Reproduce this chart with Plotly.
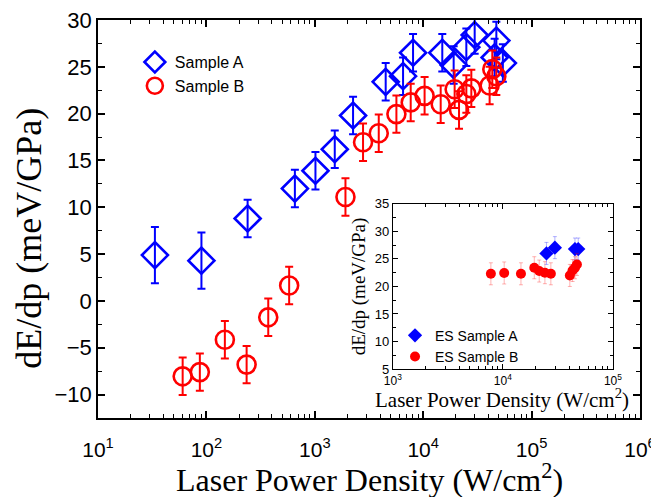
import plotly.graph_objects as go

# Main plot data
a_x = [33.5, 90, 240, 655, 1014, 1528, 2254, 4508, 6520, 8060, 15000, 19100, 25000, 29850, 47300, 45600, 54300]
a_y = [4.9, 4.3, 8.8, 12.0, 13.9, 16.2, 19.8, 23.4, 24.0, 26.5, 26.5, 25.2, 27.1, 28.4, 27.8, 26.0, 25.4]
a_err = [3, 3, 2, 2, 2, 2, 2, 2, 2, 2, 2, 2, 2, 2, 2, 2, 2]

b_x = [60.4, 87, 148, 235, 372, 580, 1918, 2786, 3890, 5660, 7670, 10300, 14500, 19500, 21400, 25000, 27800, 41000, 43400, 47300]
b_y = [-8.05, -7.6, -4.15, -6.8, -1.75, 1.65, 11.1, 16.95, 17.9, 19.95, 21.2, 21.9, 21.0, 22.6, 20.4, 22.1, 22.7, 23.0, 24.75, 24.0]
b_err = [2] * len(b_x)

# Inset data
ia_x = [24900, 29700, 45200, 48400]
ia_y = [26.0, 27.05, 26.8, 26.8]
ib_x = [7780, 10280, 14600, 19300, 21400, 24100, 27300, 40600, 43000, 45200, 47100]
ib_y = [22.3, 22.45, 22.3, 23.4, 22.8, 22.5, 22.3, 22.0, 22.9, 23.4, 24.0]
i_err = 2

# Tick labels
main_decades = [1, 2, 3, 4, 5, 6]
inset_decades = [3, 4, 5]

BLUE = "#0000FF"
RED = "#FF0000"


def dec_ticks(decs):
    vals = [10 ** d for d in decs]
    text = ["10<sup>%d</sup>" % d for d in decs]
    minors = [m * 10 ** d for d in decs[:-1] for m in range(2, 10)]
    return vals, text, minors


mv, mt, mm = dec_ticks(main_decades)
iv, it, im = dec_ticks(inset_decades)

fig = go.Figure()
fig.add_trace(go.Scatter(
    x=a_x, y=a_y, mode="markers", name="Sample A",
    marker=dict(symbol="diamond-open", size=20, color=BLUE, line=dict(width=2.6, color=BLUE)),
    error_y=dict(type="data", array=a_err, color=BLUE, thickness=2, width=4),
    xaxis="x", yaxis="y", legend="legend"))
fig.add_trace(go.Scatter(
    x=b_x, y=b_y, mode="markers", name="Sample B",
    marker=dict(symbol="circle-open", size=18, color=RED, line=dict(width=2.6, color=RED)),
    error_y=dict(type="data", array=b_err, color=RED, thickness=2, width=4),
    xaxis="x", yaxis="y", legend="legend"))

fig.add_trace(go.Scatter(
    x=ia_x, y=ia_y, mode="markers", name="ES Sample A",
    marker=dict(symbol="diamond", size=11, color=BLUE),
    error_y=dict(type="constant", value=i_err, color="rgba(0,0,255,0.3)", thickness=1, width=2),
    xaxis="x2", yaxis="y2", legend="legend2"))
fig.add_trace(go.Scatter(
    x=ib_x, y=ib_y, mode="markers", name="ES Sample B",
    marker=dict(symbol="circle", size=10, color=RED),
    error_y=dict(type="constant", value=i_err, color="rgba(255,0,0,0.3)", thickness=1, width=2),
    xaxis="x2", yaxis="y2", legend="legend2"))

axis_common = dict(showline=True, linecolor="black", mirror="ticks", ticks="inside",
                   showgrid=False, zeroline=False, tickcolor="black", automargin=False,
                   ticklabeloverflow="allow")
SERIF = "Liberation Serif, Times New Roman"
SANS = "Liberation Sans, Arial"

fig.update_layout(
    width=651, height=489,
    margin=dict(l=90, r=19, t=12, b=79, autoexpand=False),
    paper_bgcolor="white", plot_bgcolor="white",
    xaxis=dict(type="log", range=[1, 6], tickmode="array", tickvals=mv, ticktext=mt,
               linewidth=1.5, tickwidth=1.5, ticklen=7, ticklabelstandoff=12,
               minor=dict(tickmode="array", tickvals=mm, ticks="inside", ticklen=4,
                          tickwidth=1.2, tickcolor="black"),
               tickfont=dict(family=SANS, size=21, color="black"),
               domain=[0, 1], anchor="y", **axis_common),
    yaxis=dict(range=[-12.5, 30], dtick=5, tick0=0,
               linewidth=1.5, tickwidth=1.5, ticklen=7,
               minor=dict(ticks="inside", ticklen=4, tickwidth=1.2, dtick=2.5, tickcolor="black"),
               tickfont=dict(family=SANS, size=22, color="black"),
               domain=[0, 1], anchor="x", **axis_common),
    xaxis2=dict(type="log", range=[3, 5], tickmode="array", tickvals=iv, ticktext=it,
                linewidth=1.2, tickwidth=1.2, ticklen=5,
                minor=dict(tickmode="array", tickvals=im, ticks="inside", ticklen=3,
                           tickwidth=1, tickcolor="black"),
                tickfont=dict(family=SANS, size=12, color="black"),
                domain=[0.544, 0.950], anchor="y2", **axis_common),
    yaxis2=dict(range=[5, 35], dtick=5, tick0=0,
                linewidth=1.2, tickwidth=1.2, ticklen=5,
                minor=dict(ticks="inside", ticklen=3, tickwidth=1, dtick=2.5, tickcolor="black"),
                tickfont=dict(family=SANS, size=13, color="black"),
                domain=[0.123, 0.538], anchor="x2", **axis_common),
    legend=dict(x=0.068, y=0.937, xanchor="left", yanchor="top", bgcolor="rgba(0,0,0,0)",
                font=dict(family=SANS, size=16, color="black"),
                tracegroupgap=0, itemwidth=30),
    legend2=dict(x=0.548, y=0.247, xanchor="left", yanchor="top", bgcolor="rgba(0,0,0,0)",
                 font=dict(family=SANS, size=14, color="black"),
                 tracegroupgap=0, itemwidth=30),
    annotations=[
        dict(text="Laser Power Density (W/cm<sup>2</sup>)", xref="paper", yref="paper",
             x=0.5, y=-0.150, xanchor="center", yanchor="middle", showarrow=False,
             font=dict(family=SERIF, size=32, color="black")),
        dict(text="dE/dp (meV/GPa)", xref="paper", yref="paper", textangle=-90,
             x=-0.128, y=0.452, xanchor="center", yanchor="middle", showarrow=False,
             font=dict(family=SERIF, size=36, color="black")),
        dict(text="Laser Power Density (W/cm<sup>2</sup>)", xref="paper", yref="paper",
             x=0.746, y=0.048, xanchor="center", yanchor="middle", showarrow=False,
             font=dict(family=SERIF, size=21, color="black")),
        dict(text="dE/dp (meV/GPa)", xref="paper", yref="paper", textangle=-90,
             x=0.481, y=0.33, xanchor="center", yanchor="middle", showarrow=False,
             font=dict(family=SERIF, size=19, color="black")),
    ],
)

fig.write_html("out.html")
